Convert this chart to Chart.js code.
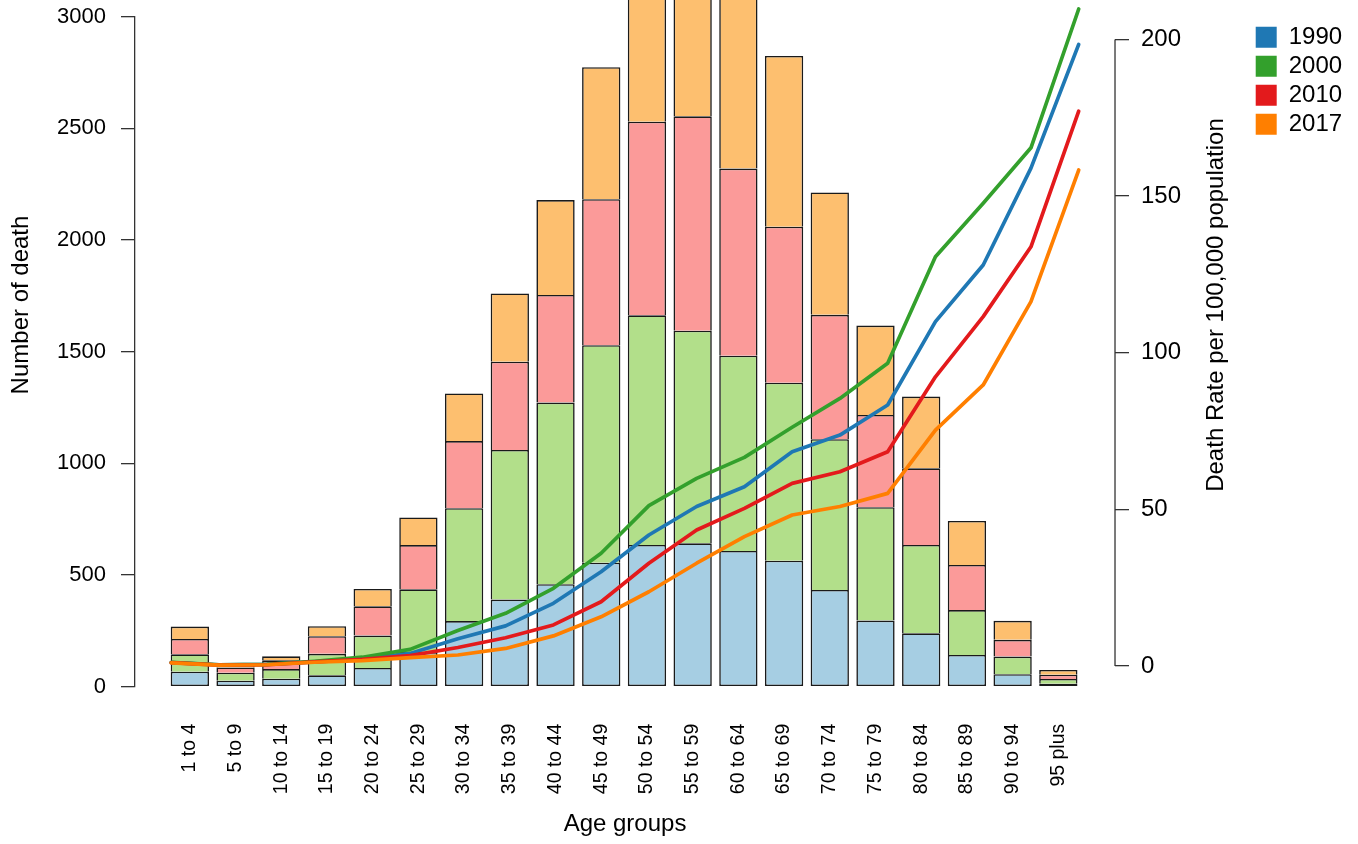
<!DOCTYPE html>
<html>
<head>
<meta charset="utf-8">
<title>Number of death and death rate by age group</title>
<script src="https://cdn.jsdelivr.net/npm/chart.js@4.4.0/dist/chart.umd.min.js"></script>
<style>
    html, body { margin: 0; padding: 0; background: #fff; }
    canvas { display: block; }
</style>
</head>
<body>
<canvas id="deathChart" width="1358" height="844"></canvas>
<script>
// Deaths (stacked bars, left axis) and death rate per 100,000 (lines, right axis)

const ageGroups = ['1 to 4', '5 to 9', '10 to 14', '15 to 19', '20 to 24', '25 to 29', '30 to 34',
    '35 to 39', '40 to 44', '45 to 49', '50 to 54', '55 to 59', '60 to 64', '65 to 69', '70 to 74',
    '75 to 79', '80 to 84', '85 to 89', '90 to 94', '95 plus'];
const years = ['1990', '2000', '2010', '2017'];

const deaths1990 = [67, 27, 36, 51, 84, 155, 294, 390, 459, 555, 635, 642, 608, 564, 433, 296, 239, 142, 56, 13];
const deaths2000 = [78, 36, 43, 96, 145, 281, 505, 670, 813, 974, 1028, 952, 874, 797, 675, 508, 396, 201, 79, 22];
const deaths2010 = [69, 23, 39, 79, 131, 198, 301, 395, 482, 654, 867, 960, 838, 699, 557, 413, 343, 202, 75, 19];
const deaths2017 = [55, 13, 18, 45, 78, 124, 213, 306, 425, 591, 700, 720, 800, 764, 548, 400, 321, 197, 85, 21];

const rate1990 = [1.1, 0.4, 0.5, 1.3, 2.3, 4.0, 8.7, 12.8, 20.0, 30.1, 41.8, 50.9, 57.2, 68.4, 73.7, 83.3, 109.9, 128.0, 158.9, 198.4];
const rate2000 = [1.2, 0.4, 0.5, 1.5, 2.8, 5.3, 11.3, 16.8, 24.8, 36.0, 51.2, 59.9, 66.6, 76.2, 85.4, 96.6, 130.6, 147.7, 165.4, 209.7];
const rate2010 = [1.1, 0.3, 0.4, 1.3, 2.1, 3.3, 5.9, 9.0, 13.1, 20.5, 32.8, 43.4, 50.3, 58.3, 62.0, 68.4, 92.3, 111.5, 133.8, 177.1];
const rate2017 = [1.0, 0.3, 0.4, 1.2, 1.7, 2.7, 3.5, 5.6, 9.6, 15.7, 23.7, 32.8, 41.3, 48.2, 50.9, 55.1, 75.3, 89.7, 116.3, 158.3];

const deathTicks = [0, 500, 1000, 1500, 2000, 2500, 3000];
const rateTicks = [0, 50, 100, 150, 200];

const barColors = ['#A6CEE3', '#B2DF8A', '#FB9A99', '#FDBF6F'];
const lineColors = ['#1F78B4', '#33A02C', '#E31A1C', '#FF7F00'];

const FONT = '"Liberation Sans", Arial, Helvetica, sans-serif';

document.addEventListener('DOMContentLoaded', function() {
    initializeChart();
});

function drawVerticalText(ctx, text, x, y) {
    ctx.save();
    ctx.translate(x, y);
    ctx.rotate(-Math.PI / 2);
    ctx.fillText(text, 0, 0);
    ctx.restore();
}

// keep tick labels from pushing the plot area in
function noScalePadding(scale) {
    scale.paddingTop = 0;
    scale.paddingBottom = 0;
    scale.paddingLeft = 0;
    scale.paddingRight = 0;
}

// right axis line only over the tick range (like R), plus both y titles
const axisExtras = {
    id: 'axisExtras',
    afterDraw(chart) {
        const ctx = chart.ctx;
        const area = chart.chartArea;
        const yr = chart.scales.yr;
        ctx.save();
        ctx.strokeStyle = '#333';
        ctx.lineWidth = 1.3;
        ctx.beginPath();
        ctx.moveTo(area.right, yr.getPixelForValue(rateTicks[0]));
        ctx.lineTo(area.right, yr.getPixelForValue(rateTicks[rateTicks.length - 1]));
        ctx.stroke();

        ctx.fillStyle = '#000';
        ctx.font = '24px ' + FONT;
        ctx.textAlign = 'center';
        ctx.textBaseline = 'middle';
        drawVerticalText(ctx, 'Number of death', 21.5, 305);
        drawVerticalText(ctx, 'Death Rate per 100,000 population', area.right + 101, 305);
        ctx.restore();
    }
};

function initializeChart() {
    const canvas = document.getElementById('deathChart');
    if (!canvas || typeof Chart === 'undefined') return;

    Chart.defaults.font.family = FONT;
    Chart.defaults.color = '#000';

    const deathSeries = [deaths1990, deaths2000, deaths2010, deaths2017];
    const rateSeries = [rate1990, rate2000, rate2010, rate2017];

    const barSets = years.map(function(year, k) {
        return {
            type: 'bar',
            label: year + ' deaths',
            data: deathSeries[k].map((v, i) => ({ x: i, y: v })),
            backgroundColor: barColors[k],
            borderColor: '#1a1a1a',
            borderWidth: 1.6,
            borderSkipped: k === 0 ? false : 'start',
            stack: 'deaths',
            grouped: false,
            xAxisID: 'x',
            yAxisID: 'y',
            barPercentage: 0.838,
            categoryPercentage: 1,
            clip: false,
            order: 10
        };
    });

    const lineSets = years.map(function(year, k) {
        return {
            type: 'line',
            label: year,
            data: rateSeries[k].map((v, i) => ({ x: i, y: v })),
            borderColor: lineColors[k],
            backgroundColor: lineColors[k],
            borderWidth: 3.7,
            borderCapStyle: 'round',
            borderJoinStyle: 'round',
            pointRadius: 0,
            tension: 0,
            fill: false,
            xAxisID: 'xl',
            yAxisID: 'yr',
            clip: false,
            order: 4 - k
        };
    });

    new Chart(canvas, {
        type: 'bar',
        data: { datasets: barSets.concat(lineSets) },
        plugins: [axisExtras],
        options: {
            responsive: false,
            animation: false,
            devicePixelRatio: 1,
            layout: { padding: { top: 16.7, right: 5.9, bottom: 0, left: 0 } },
            plugins: {
                tooltip: { enabled: false },
                legend: {
                    position: 'right',
                    align: 'start',
                    title: { display: true, text: '', font: { size: 3 }, padding: 0 },
                    labels: {
                        boxWidth: 21,
                        boxHeight: 21,
                        padding: 5,
                        font: { size: 24 },
                        color: '#000',
                        generateLabels: function(chart) {
                            return lineSets.map((ds, k) => ({
                                text: ds.label,
                                fillStyle: lineColors[k],
                                strokeStyle: lineColors[k],
                                lineWidth: 0,
                                datasetIndex: barSets.length + k
                            }));
                        }
                    },
                    onClick: null
                }
            },
            scales: {
                x: {
                    type: 'linear',
                    position: 'bottom',
                    offset: false,
                    min: -1.2,
                    max: 20.24,
                    afterBuildTicks: function(scale) {
                        scale.ticks = ageGroups.map((g, i) => ({ value: i }));
                    },
                    afterFit: function(scale) {
                        noScalePadding(scale);
                        scale.height = 157.3;
                    },
                    grid: { display: false, drawTicks: false, offset: false },
                    border: { display: false },
                    ticks: {
                        autoSkip: false,
                        minRotation: 90,
                        maxRotation: 90,
                        padding: 37,
                        font: { size: 19.5 },
                        callback: (value, index) => ageGroups[index]
                    },
                    title: {
                        display: true,
                        text: 'Age groups',
                        font: { size: 24 },
                        padding: { top: 0, bottom: 5.6 }
                    }
                },
                xl: {
                    type: 'linear',
                    display: false,
                    offset: false,
                    min: -0.76,
                    max: 19.76
                },
                y: {
                    position: 'left',
                    stacked: true,
                    min: 0,
                    max: 3000,
                    afterBuildTicks: function(scale) {
                        scale.ticks = deathTicks.map(v => ({ value: v }));
                    },
                    afterFit: function(scale) {
                        noScalePadding(scale);
                        scale.width = 135;
                    },
                    grid: { drawOnChartArea: false, drawTicks: true, tickLength: 14, color: '#333', lineWidth: 1.3 },
                    border: { display: true, color: '#333', width: 1.3 },
                    ticks: {
                        padding: 15,
                        font: { size: 22 },
                        callback: v => String(v)
                    }
                },
                yr: {
                    position: 'right',
                    min: -6.61,
                    max: 207.24,
                    afterBuildTicks: function(scale) {
                        scale.ticks = rateTicks.map(v => ({ value: v }));
                    },
                    afterFit: function(scale) {
                        noScalePadding(scale);
                        scale.width = 135.7;
                    },
                    grid: { drawOnChartArea: false, drawTicks: true, tickLength: 14, color: '#333', lineWidth: 1.3 },
                    border: { display: false },
                    ticks: {
                        padding: 12,
                        font: { size: 24 },
                        callback: v => String(v)
                    }
                }
            }
        }
    });
}
</script>
</body>
</html>
